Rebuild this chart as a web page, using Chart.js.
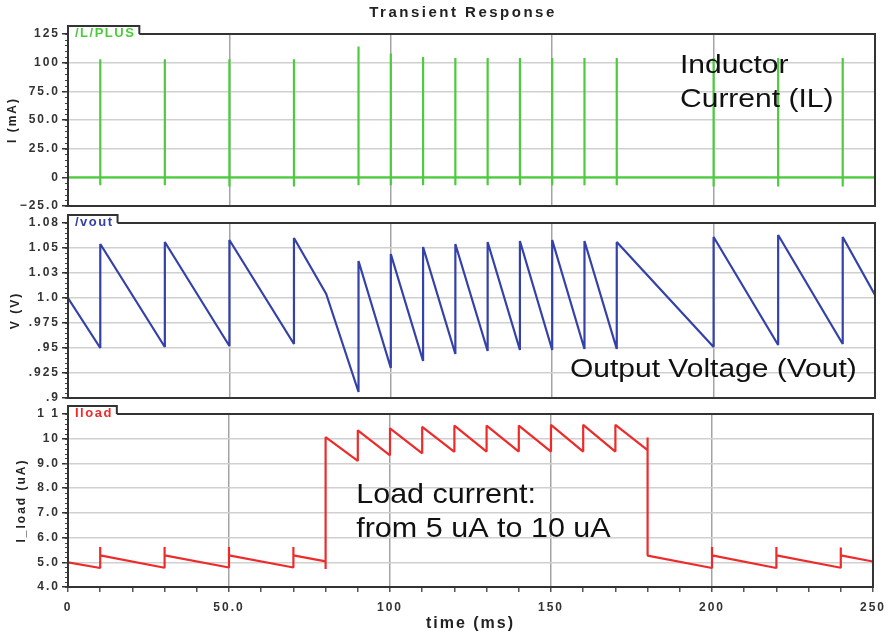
<!DOCTYPE html>
<html>
<head>
<meta charset="utf-8">
<script src="https://cdn.jsdelivr.net/npm/chart.js@4"></script>
<style>
  body { margin: 0; background: #fff; }
  #wrap { position: relative; width: 894px; height: 635px; }
  #wrap canvas { position: absolute; left: 0; top: 0; }
</style>
</head>
<body>
<div id="wrap">
  <canvas id="chartIL" width="894" height="635"></canvas>
  <canvas id="chartVout" width="894" height="635"></canvas>
  <canvas id="chartLoad" width="894" height="635"></canvas>
</div>
<script>
// Corriente en el inductor: instantes de conmutación, picos y valles (mA)
const spikeTimes = [10, 30, 50, 70, 90, 100, 110, 120, 130, 140, 150, 160, 170, 200, 220, 240];
const spikePeaks = [103, 103, 103, 103, 114, 108, 105, 104, 104, 104, 104, 104, 104, 104, 104, 104];
const spikeDips  = [-7, -7, -8, -8, -7, -7, -7, -7, -7, -7, -7, -7, -7, -8, -8, -8];

// Tensión de salida (V)
const voutT = [0, 10, 10, 30, 30, 50, 50, 70, 70, 80, 90, 90, 100, 100, 110, 110, 120, 120,
  130, 130, 140, 140, 150, 150, 160, 160, 170, 170, 200, 200, 220, 220, 240, 240, 250];
const voutV = [1.0, 0.950, 1.054, 0.951, 1.056, 0.952, 1.058, 0.954, 1.060, 1.004, 0.906, 1.037,
  0.930, 1.044, 0.937, 1.051, 0.944, 1.054, 0.947, 1.056, 0.948, 1.057, 0.948, 1.058,
  0.949, 1.057, 0.949, 1.056, 0.951, 1.061, 0.953, 1.063, 0.954, 1.061, 1.003];

// Corriente de carga (uA)
const iloadT = [0, 10, 10, 10, 30, 30, 30, 50, 50, 50, 70, 70, 70, 80, 80, 80, 90, 90,
  100, 100, 110, 110, 120, 120, 130, 130, 140, 140, 150, 150, 160, 160, 170, 170,
  180, 180, 180, 200, 200, 200, 220, 220, 220, 240, 240, 240, 250];
const iloadV = [5.0, 4.77, 5.62, 5.28, 4.78, 5.62, 5.28, 4.79, 5.62, 5.28, 4.79, 5.62, 5.28,
  5.04, 4.73, 10.06, 9.10, 10.34, 9.33, 10.42, 9.41, 10.48, 9.47, 10.53, 9.48, 10.53,
  9.48, 10.53, 9.48, 10.56, 9.48, 10.56, 9.48, 10.56, 9.54, 10.05, 5.27, 4.77, 5.62, 5.28,
  4.77, 5.62, 5.28, 4.78, 5.60, 5.28, 5.03];

// Etiquetas de los ejes (de menor a mayor)
const ilTickLabels = ['\u221225.0', '0', '25.0', '50.0', '75.0', '100', '125'];
const voutTickLabels = ['.9', '.925', '.95', '.975', '1.0', '1.03', '1.05', '1.08'];
const loadTickLabels = ['4.0', '5.0', '6.0', '7.0', '8.0', '9.0', '10', '1 1'];
const timeTickLabels = ['0', '50.0', '100', '150', '200', '250'];

const FONT = '"Liberation Sans", Arial, sans-serif';
Chart.defaults.font.family = FONT;
Chart.defaults.color = '#333';

const panelPlugin = {
  id: 'panel',
  beforeLayout(chart) { chart.ctx.letterSpacing = '2px'; },
  beforeDraw(chart) { chart.ctx.letterSpacing = '2px'; },
  afterDraw(chart, args, opts) {
    const { ctx, chartArea: a } = chart;
    const y = chart.scales.y;
    ctx.save();

    // marcas menores del eje y
    ctx.strokeStyle = '#444';
    ctx.lineWidth = 1;
    const minor = opts.step / 5;
    const n = Math.round((y.max - y.min) / minor);
    for (let k = 0; k <= n; k++) {
      const py = Math.round(y.getPixelForValue(y.min + k * minor)) + 0.5;
      ctx.beginPath();
      ctx.moveTo(a.left - 3, py);
      ctx.lineTo(a.left, py);
      ctx.stroke();
    }

    // pestaña con el nombre de la señal
    ctx.font = 'bold 13px ' + FONT;
    ctx.letterSpacing = '1.5px';
    const tw = ctx.measureText(opts.tab).width;
    const tabR = a.left + 7 + tw + 4;
    ctx.fillStyle = '#fff';
    ctx.fillRect(a.left, a.top - 8, tabR - a.left, 10);

    // marco
    ctx.strokeStyle = '#333';
    ctx.lineWidth = 2;
    ctx.beginPath();
    ctx.moveTo(tabR, a.top);
    ctx.lineTo(a.right, a.top);
    ctx.lineTo(a.right, a.bottom);
    ctx.lineTo(a.left, a.bottom);
    ctx.lineTo(a.left, a.top - 8);
    ctx.lineTo(tabR, a.top - 8);
    ctx.lineTo(tabR, a.top);
    ctx.stroke();

    ctx.fillStyle = opts.color;
    ctx.textBaseline = 'alphabetic';
    ctx.textAlign = 'left';
    ctx.fillText(opts.tab, a.left + 7, a.top + 3);

    // título general
    if (opts.title) {
      ctx.font = 'bold 15px ' + FONT;
      ctx.letterSpacing = '2.5px';
      ctx.fillStyle = '#222';
      ctx.textAlign = 'center';
      ctx.textBaseline = 'middle';
      ctx.fillText(opts.title, 463, 13);
    }

    // anotaciones
    ctx.letterSpacing = '0px';
    ctx.textAlign = 'left';
    ctx.textBaseline = 'alphabetic';
    ctx.fillStyle = '#111';
    (opts.notes || []).forEach(nt => {
      ctx.save();
      ctx.translate(chart.scales.x.getPixelForValue(nt.x), y.getPixelForValue(nt.y));
      ctx.scale(nt.sx, 1);
      ctx.font = nt.size + 'px ' + FONT;
      ctx.fillText(nt.text, 0, 0);
      ctx.restore();
    });
    ctx.restore();
  }
};

const gridX = c => (c.tick && c.tick.value % 50 === 0 && c.tick.value > 0 && c.tick.value < 250)
  ? '#a4a4a4' : 'rgba(0,0,0,0)';

function makeChart(id, cfg) {
  const ctx = document.getElementById(id).getContext('2d');
  const xAxis = cfg.showX ? {
    type: 'linear', min: 0, max: 250,
    ticks: {
      stepSize: 10, autoSkip: false, maxRotation: 0, padding: 8,
      font: { size: 12, weight: 'bold' }, color: '#333',
      callback: v => (v % 50 === 0 ? timeTickLabels[v / 50] : '')
    },
    grid: { color: gridX, lineWidth: 1.5, tickLength: 5, tickColor: '#555', tickWidth: 1.5 },
    border: { display: false },
    title: { display: true, text: 'time (ms)', font: { size: 16, weight: 'bold' }, color: '#222', padding: { top: 0, bottom: 2 } },
    afterFit: s => { s.height = 48; }
  } : {
    type: 'linear', min: 0, max: 250,
    ticks: { display: false, stepSize: 50 },
    grid: { color: gridX, lineWidth: 1.5, drawTicks: false },
    border: { display: false },
    afterFit: s => { s.height = 0; }
  };

  return new Chart(ctx, {
    type: 'line',
    data: {
      datasets: [{
        data: cfg.points,
        borderColor: cfg.color,
        borderWidth: 2.2,
        pointRadius: 0,
        tension: 0,
        borderJoinStyle: 'bevel'
      }]
    },
    options: {
      responsive: false,
      animation: false,
      devicePixelRatio: 1,
      layout: { padding: { left: 0, right: 19, top: cfg.top, bottom: cfg.bottom } },
      plugins: {
        legend: { display: false },
        tooltip: { enabled: false },
        panel: { tab: cfg.tab, color: cfg.color, step: cfg.step, title: cfg.title, notes: cfg.notes }
      },
      scales: {
        x: xAxis,
        y: {
          min: cfg.min, max: cfg.max,
          ticks: {
            stepSize: cfg.step, autoSkip: false, padding: 2,
            font: { size: 12, weight: 'bold' }, color: '#333',
            callback: (v, i) => cfg.labels[i]
          },
          grid: { color: '#d0d0d0', lineWidth: 1.5, tickLength: 6, tickColor: '#333', tickWidth: 1.5 },
          border: { display: false },
          title: { display: true, text: cfg.yTitle, font: { size: 12, weight: 'bold' }, color: '#222', padding: { top: cfg.titlePad, bottom: 0 } },
          afterFit: s => { s.width = 68; }
        }
      }
    },
    plugins: [panelPlugin]
  });
}

// Serie de la corriente del inductor construida a partir de los picos
const ilPoints = [{ x: 0, y: 0 }];
spikeTimes.forEach((t, i) => {
  ilPoints.push({ x: t, y: 0 }, { x: t, y: spikePeaks[i] }, { x: t, y: spikeDips[i] }, { x: t, y: 0 });
});
ilPoints.push({ x: 250, y: 0 });

const voutPoints = voutT.map((t, i) => ({ x: t, y: voutV[i] }));
const loadPoints = iloadT.map((t, i) => ({ x: t, y: iloadV[i] }));

makeChart('chartIL', {
  points: ilPoints, color: '#4ccc3c', tab: '/L/PLUS', title: 'Transient Response',
  top: 34, bottom: 429, min: -25, max: 125, step: 25, labels: ilTickLabels,
  yTitle: 'I (mA)', titlePad: 5,
  notes: [
    { text: 'Inductor', x: 189.6, y: 91, size: 25, sx: 1.2 },
    { text: 'Current (IL)', x: 189.6, y: 61.3, size: 25, sx: 1.2 }
  ]
});

makeChart('chartVout', {
  points: voutPoints, color: '#3441a8', tab: '/vout',
  top: 223, bottom: 237, min: 0.9, max: 1.075, step: 0.025, labels: voutTickLabels,
  yTitle: 'V (V)', titlePad: 8,
  notes: [{ text: 'Output Voltage (Vout)', x: 155.5, y: 0.921, size: 25, sx: 1.2 }]
});

makeChart('chartLoad', {
  points: loadPoints, color: '#ee2b2b', tab: 'Iload', showX: true,
  top: 414, bottom: 0, min: 4, max: 11, step: 1, labels: loadTickLabels,
  yTitle: 'I_load (uA)', titlePad: 14,
  notes: [
    { text: 'Load current:', x: 89.5, y: 7.4, size: 28, sx: 1.09 },
    { text: 'from 5 uA to 10 uA', x: 89.5, y: 6.02, size: 28, sx: 1.09 }
  ]
});
</script>
</body>
</html>
